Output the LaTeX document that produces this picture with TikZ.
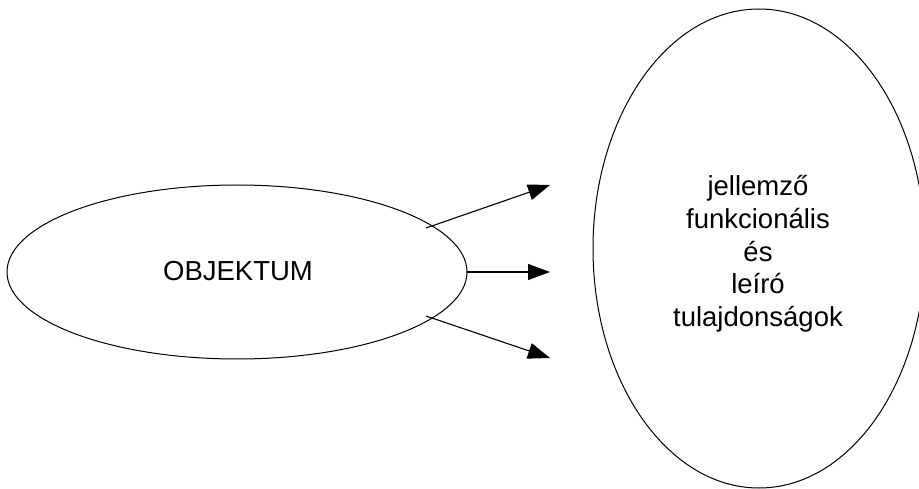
\documentclass[tikz,border=0pt]{standalone}
\usepackage{fontspec}
\setmainfont{Liberation Sans}
\usetikzlibrary{arrows.meta,shapes.geometric}
\begin{document}
\begin{tikzpicture}[x=1pt,y=-1pt,
  oval/.style={draw,ellipse,line width=1pt,inner sep=0pt},
  lbl/.style={font=\fontsize{27.5}{32.7}\selectfont,align=center},
  conn/.style={line width=1.1pt,-{Triangle[length=22pt,width=16pt]}}]
\useasboundingbox (0,0) rectangle (919,489);
\node[oval,minimum width=460pt,minimum height=174pt] (obj) at (237,272) {};
\node[lbl] (objt) at (238,271.5) {OBJEKTUM};
\node[oval,minimum width=332pt,minimum height=479pt] (tul) at (759,248.5) {};
\node[lbl] (tult) at (758,254) {jellemző\\funkcionális\\és\\leíró\\tulajdonságok};
\coordinate (s1) at (426,228);
\coordinate (s2) at ([xshift=-1pt]obj.east);
\coordinate (s3) at (426,316);
\coordinate (e1) at (550,185);
\coordinate (e2) at (550,272);
\coordinate (e3) at (550,358);
\draw[conn] (s1) -- (e1);
\draw[conn] (s2) -- (e2);
\draw[conn] (s3) -- (e3);
\end{tikzpicture}
\end{document}
